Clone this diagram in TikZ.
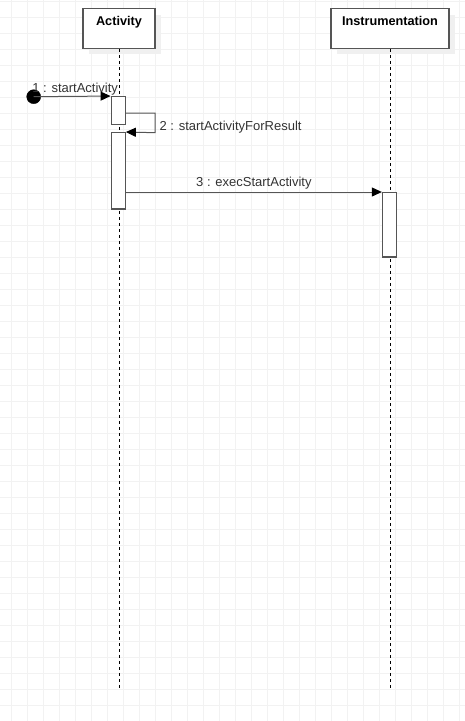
\documentclass[tikz,border=0pt]{standalone}
\usepackage{fontspec}
\setmainfont{Liberation Sans}
\usetikzlibrary{arrows.meta}
\definecolor{gridgray}{HTML}{F2F2F2}
\definecolor{linegray}{HTML}{555555}
\tikzset{
	gridline/.style={draw=gridgray, line width=1pt},
	lifebox/.style={draw=linegray, line width=1.3pt, fill=white, minimum width=72pt, minimum height=40pt, inner sep=0pt},
	boxshadow/.style={fill=black!6},
	lifeline/.style={draw=black, line width=1pt, dash pattern=on 3pt off 3pt},
	actbox/.style={draw=linegray, line width=1.3pt, fill=white, minimum width=14pt, inner sep=0pt},
	msg/.style={draw=linegray, line width=1pt, -{Triangle[length=10pt,width=9pt,color=black]}},
	msglabel/.style={text=black!80, font=\fontsize{13}{15}\selectfont},
	headlabel/.style={anchor=north, font=\bfseries\fontsize{12.7}{15}\selectfont}
}

\begin{document}
\begin{tikzpicture}[x=1pt,y=-1pt]
	\useasboundingbox (0,0) rectangle (465,721);
	\foreach \gx in {11,27,...,459} \draw[gridline] (\gx,0) -- (\gx,721);
	\foreach \gy in {1,17,...,721} \draw[gridline] (0,\gy) -- (465,\gy);
	% heads
	\fill[boxshadow] (89,15) rectangle (161,54);
	\fill[boxshadow] (337,15) rectangle (455,54);
	\node[lifebox] (act) at (119,28.3) {};
	\node[lifebox, minimum width=118pt] (ins) at (390,28.3) {};
	\node[headlabel] (actname) at ([yshift=-5pt]act.north) {Activity};
	\node[headlabel] (insname) at ([yshift=-5pt]ins.north) {Instrumentation};
	\coordinate (actend) at (119,688);
	\coordinate (insend) at (390,688);
	\draw[lifeline] (act.south) -- (actend);
	\draw[lifeline] (ins.south) -- (insend);
	% activations
	\node[actbox, minimum height=28pt] (a1) at (118.2,110.7) {};
	\node[actbox, minimum height=76.3pt] (a2) at (118.2,170.8) {};
	\node[actbox, minimum height=64.3pt] (a3) at (389.5,224.8) {};
	% messages
	\filldraw[black] (33.7,96.7) circle (7pt) coordinate (start);
	\draw[msg] (start) -- node[msglabel, above, inner sep=1pt, xshift=3pt] {1 : startActivity} (a1.north west);
	\draw[msg] ([yshift=-2.3pt]a1.east) -- (155,113) -- node[msglabel, right, pos=0.7, inner sep=4pt] {2 : startActivityForResult} (155,132.7) -- (a2.north east);
	\draw[msg] (a2.east |- a3.north west) -- node[msglabel, above, inner sep=2pt] {3 : execStartActivity} (a3.north west);
\end{tikzpicture}
\end{document}
